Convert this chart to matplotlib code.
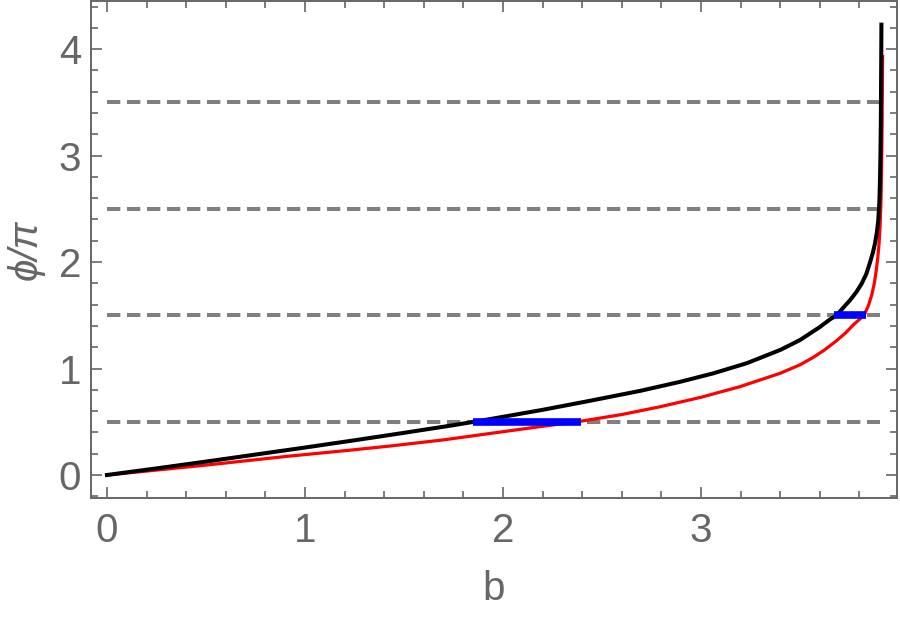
import matplotlib
matplotlib.use("Agg")
import matplotlib.pyplot as plt
from matplotlib.ticker import MultipleLocator

# values
b_black = [0.0, 0.25, 0.5, 0.75, 1.0, 1.25, 1.5, 1.75, 1.934, 2.2, 2.439, 2.692,
           2.894, 3.062, 3.231, 3.399, 3.449, 3.5, 3.551, 3.6, 3.65, 3.685,
           3.72, 3.753, 3.785, 3.812, 3.835, 3.854, 3.868, 3.879, 3.888, 3.895,
           3.901, 3.904, 3.906, 3.908, 3.909, 3.910, 3.911]
phi_black = [0.0, 0.062, 0.126, 0.192, 0.258, 0.326, 0.396, 0.468, 0.525, 0.612, 0.697, 0.79,
             0.875, 0.955, 1.05, 1.174, 1.22, 1.268, 1.33, 1.39, 1.46, 1.5,
             1.575, 1.643, 1.72, 1.80, 1.89, 2.0, 2.09, 2.18, 2.28, 2.39,
             2.58, 2.8, 3.0, 3.3, 3.6, 3.9, 4.23]

b_red = [0.0, 0.25, 0.5, 0.924, 1.2, 1.429, 1.7, 1.934, 2.15, 2.389, 2.6, 2.793, 3.0,
         3.197, 3.399, 3.5, 3.567, 3.62, 3.685, 3.73, 3.769, 3.8, 3.823, 3.845,
         3.862, 3.875, 3.884, 3.892, 3.899, 3.904, 3.908, 3.911, 3.913, 3.915, 3.917]
phi_red = [0.0, 0.046, 0.093, 0.178, 0.228, 0.272, 0.33, 0.39, 0.445, 0.504, 0.568, 0.641, 0.73,
           0.83, 0.955, 1.035, 1.105, 1.17, 1.262, 1.335, 1.41, 1.462, 1.50, 1.59,
           1.69, 1.80, 1.91, 2.03, 2.17, 2.33, 2.52, 2.78, 3.05, 3.4, 3.93]

dash_levels = [0.5, 1.5, 2.5, 3.5]
dash_end = 3.904

blue_y = [0.5, 1.5]
blue_x0 = [1.85, 3.672]
blue_x1 = [2.394, 3.833]

plt.rcParams['font.family'] = ['Liberation Sans', 'DejaVu Sans']
plt.rcParams['lines.scale_dashes'] = False
grey = '#666666'

fig = plt.figure(figsize=(9, 6.18), dpi=100)
ax = fig.add_axes([0.1008, 0.1947, 0.8955, 0.8033])

for lev in dash_levels:
    ax.plot([0, dash_end], [lev, lev], color='#808080', lw=2.9,
            linestyle=(0, (9.6, 4.8)), zorder=1)

ax.plot(b_red, phi_red, color='#ff0000', lw=2.3, zorder=2, solid_joinstyle='round')
ax.plot(b_black, phi_black, color='black', lw=2.9, zorder=3, solid_joinstyle='round')

for y, x0, x1 in zip(blue_y, blue_x0, blue_x1):
    ax.plot([x0, x1], [y, y], color='#0000ff', lw=5.5, solid_capstyle='butt', zorder=4)

ax.set_xlim(-0.082, 3.988)
ax.set_ylim(-0.213, 4.45)
ax.xaxis.set_major_locator(MultipleLocator(1))
ax.xaxis.set_minor_locator(MultipleLocator(0.2))
ax.yaxis.set_major_locator(MultipleLocator(1))
ax.yaxis.set_minor_locator(MultipleLocator(0.2))

for s in ax.spines.values():
    s.set_color(grey)
    s.set_linewidth(1.4)

ax.tick_params(which='both', direction='in', top=True, right=True, color=grey,
               labelcolor=grey, labelsize=29, width=1.2)
ax.tick_params(which='major', length=8)
ax.tick_params(which='minor', length=5)
ax.tick_params(axis='x', pad=10)
ax.tick_params(axis='y', pad=7)

ax.set_xlabel('b', fontsize=29, color=grey, labelpad=15)
ax.set_ylabel('ϕ/π', fontsize=29, color=grey, style='italic', labelpad=10)

fig.savefig('out.png', dpi=100)
